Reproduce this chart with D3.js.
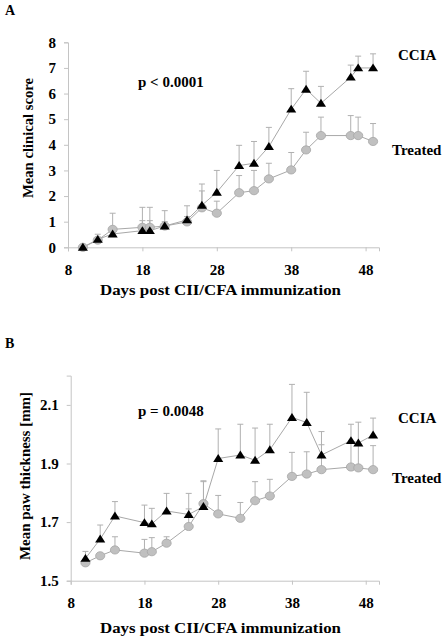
<!DOCTYPE html>
<html><head><meta charset="utf-8">
<script src="https://cdn.jsdelivr.net/npm/d3@7"></script>
<style>body{margin:0;background:#fff}svg text{font-family:"Liberation Serif","Times New Roman",serif;font-weight:bold;fill:#000}</style>
</head><body><svg id="c" width="448" height="639"></svg>
<script>
const days = [10,12,14,18,19,21,24,26,28,31,33,35,38,40,42,46,47,49];
const xTicks = [8,18,28,38,48];
// Panel A: clinical score
const scoreTicks = [0,1,2,3,4,5,6,7,8];
const scoreCCIA    = [0,0.31,0.52,0.65,0.65,0.83,1.07,1.64,2.15,3.19,3.28,3.93,5.39,6.17,5.62,6.64,7.0,7.0];
const scoreCCIAErr = [0,0.51,0.7,1.04,1.04,1.0,1.2,2.47,3.0,3.98,4.13,4.68,6.19,6.87,6.28,7.11,7.46,7.55];
const scoreTreated    = [0,0.28,0.7,0.78,0.78,0.83,0.99,1.54,1.33,2.13,2.21,2.67,3.02,3.8,4.36,4.36,4.36,4.13];
const scoreTreatedErr = [0,0.35,1.33,1.56,1.56,1.43,1.62,2.2,1.8,2.8,3.0,3.28,3.7,4.49,5.08,5.14,5.08,4.83];
// Panel B: paw thickness
const pawTicks = [1.5,1.7,1.9,2.1];
const pawCCIA    = [1.576,1.642,1.721,1.698,1.694,1.738,1.726,1.753,1.917,1.929,1.911,1.947,2.057,2.04,1.929,1.978,1.97,1.997];
const pawCCIAErr = [1.6,1.69,1.77,1.758,1.747,1.798,1.798,1.841,2.018,2.034,2.021,2.034,2.17,2.143,2.009,2.034,2.041,2.055];
const pawTreated    = [1.561,1.585,1.605,1.594,1.599,1.628,1.685,1.763,1.728,1.713,1.773,1.789,1.856,1.864,1.879,1.888,1.885,1.879];
const pawTreatedErr = [1.565,1.59,1.65,1.641,1.647,1.65,1.745,1.838,1.791,1.767,1.838,1.846,1.938,1.94,1.964,1.97,1.965,1.961];

const svg = d3.select("#c");
const grey = "#b0b0b0";

function panel(o){
  const g = svg.append("g");
  const x = d3.scaleLinear().domain([8,49.8]).range([o.x0, 379]);
  const y = d3.scaleLinear().domain(o.ydom).range([o.yb, o.yt]);
  // axes
  const ya = d3.axisLeft(y).tickValues(o.yticks).tickSize(4).tickPadding(8).tickFormat(o.fmt);
  const xa = d3.axisBottom(x).tickValues(xTicks).tickSize(4).tickPadding(10);
  const gy = g.append("g").attr("transform",`translate(${o.x0},0)`).call(ya);
  const gx = g.append("g").attr("transform",`translate(0,${o.yb})`).call(xa);
  [gx,gy].forEach(a=>{
    a.select(".domain").attr("stroke","#c4c4c4");
    a.selectAll(".tick line").attr("stroke","#c4c4c4");
    a.selectAll(".tick text").style("font-size","15px").attr("fill","#000");
  });
  gx.selectAll(".tick text").attr("dy","0.9em");
  // error bars
  const series = [
    {v:o.tr, e:o.trE},
    {v:o.cc, e:o.ccE}
  ];
  series.forEach(s=>{
    days.forEach((d,i)=>{
      if (s.e[i] <= s.v[i]) return;
      g.append("line").attr("x1",x(d)).attr("x2",x(d)).attr("y1",y(s.v[i])).attr("y2",y(s.e[i])).attr("stroke",grey).attr("stroke-width",1);
      g.append("line").attr("x1",x(d)-3).attr("x2",x(d)+3).attr("y1",y(s.e[i])).attr("y2",y(s.e[i])).attr("stroke",grey).attr("stroke-width",1);
    });
  });
  const line = d3.line().x((v,i)=>x(days[i])).y(v=>y(v));
  g.append("path").attr("d",line(o.tr)).attr("fill","none").attr("stroke","#a8a8a8").attr("stroke-width",1);
  g.append("path").attr("d",line(o.cc)).attr("fill","none").attr("stroke","#a8a8a8").attr("stroke-width",1);
  g.selectAll(".c").data(o.tr).enter().append("ellipse")
    .attr("cx",(v,i)=>x(days[i])).attr("cy",v=>y(v)).attr("rx",4.6).attr("ry",4.1)
    .attr("fill","#c0c0c0").attr("stroke","#a6a6a6").attr("stroke-width",0.8);
  const tri = d3.symbol().type(d3.symbolTriangle).size(40);
  g.selectAll(".t").data(o.cc).enter().append("path")
    .attr("d",tri).attr("transform",(v,i)=>`translate(${x(days[i])},${y(v)+0.8}) scale(1.05,0.95)`)
    .attr("fill","#000");
  // texts
  g.append("text").attr("x",5).attr("y",o.labelY).style("font-size","14px").text(o.label);
  g.append("text").attr("transform",`translate(${o.ytx},${o.yty}) rotate(-90)`).attr("text-anchor","middle")
    .style("font-size","15px").attr("textLength",o.ytl).attr("lengthAdjust","spacingAndGlyphs").text(o.ytitle);
  g.append("text").attr("x",100).attr("y",o.xty).style("font-size","15px").attr("textLength",241).attr("lengthAdjust","spacingAndGlyphs").text("Days post CII/CFA immunization");
  g.append("text").attr("x",138).attr("y",o.py).style("font-size","15px").text(o.ptext);
  g.append("text").attr("x",398).attr("y",o.ccY).style("font-size","15px").text("CCIA");
  g.append("text").attr("x",392).attr("y",o.trY).style("font-size","15px").text("Treated");
}

panel({x0:68, ydom:[0,8], yb:247.3, yt:42.3, yticks:scoreTicks, fmt:d3.format("d"),
  cc:scoreCCIA, ccE:scoreCCIAErr, tr:scoreTreated, trE:scoreTreatedErr,
  label:"A", labelY:15, ytitle:"Mean clinical score", ytx:33, yty:138, ytl:120,
  xty:295, ptext:"p < 0.0001", py:87, ccY:59.5, trY:155});
panel({x0:70.7, ydom:[1.5,2.2], yb:580.7, yt:375.6, yticks:pawTicks, fmt:d3.format(".1f"),
  cc:pawCCIA, ccE:pawCCIAErr, tr:pawTreated, trE:pawTreatedErr,
  label:"B", labelY:348, ytitle:"Mean paw thickness [mm]", ytx:30, yty:476, ytl:168,
  xty:633, ptext:"p = 0.0048", py:416, ccY:423, trY:483});
</script></body></html>
